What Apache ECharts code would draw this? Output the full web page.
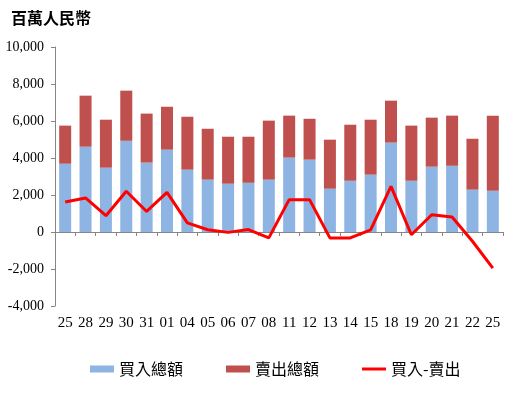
<!DOCTYPE html>
<html><head><meta charset="utf-8">
<script src="https://cdn.jsdelivr.net/npm/echarts@6/dist/echarts.min.js"></script>
<style>html,body{margin:0;padding:0;background:#fff}#c{width:516px;height:396px}</style>
</head><body><div id="c"></div>
<script>
const categories = ['25','28','29','30','31','01','04','05','06','07','08','11','12','13','14','15','18','19','20','21','22','25'];
const buyTotal = [3690,4610,3480,4930,3750,4450,3370,2830,2610,2660,2830,4020,3910,2340,2770,3100,4830,2770,3530,3580,2290,2230];
const grandTotal = [5750,7370,6070,7640,6400,6770,6230,5580,5150,5150,6020,6290,6120,4990,5800,6070,7100,5750,6180,6290,5040,6290];
const sellTotal = grandTotal.map((t,i)=>t-buyTotal[i]);
const netBuy = [1620,1840,880,2200,1110,2140,490,120,-20,130,-320,1750,1750,-320,-320,120,2470,-150,930,810,-500,-1950];
const yTicks = {min:-4000, max:10000, interval:2000};
const title = '百萬人民幣';
const names = ['買入總額','賣出總額','買入-賣出'];

const chart = echarts.init(document.getElementById('c'), null, {renderer:'canvas'});
const serif = "'Liberation Serif', 'Times New Roman', serif";
const cjk = "'Noto Sans CJK TC', 'Noto Sans', sans-serif";
chart.setOption({
  animation:false,
  title:{text:title, left:6, top:5, textStyle:{fontFamily:cjk, fontSize:16, fontWeight:'bold', color:'#000'}},
  grid:{left:55, right:13, top:47, bottom:90},
  legend:{
    left:85, top:356, itemGap:43, itemWidth:24, itemHeight:7,
    textStyle:{fontFamily:cjk, fontSize:16, color:'#000'},
    data:[
      {name:names[0], icon:'rect'},
      {name:names[1], icon:'rect'},
      {name:names[2], icon:'path://M0,0 L0,0 M0,2 L24,2 L24,5 L0,5 Z M24,7 L24,7', itemStyle:{color:'#FF0000'}}
    ]
  },
  xAxis:[
    {type:'category', data:categories, position:'bottom',
     axisLine:{onZero:true, lineStyle:{color:'#868686', width:1}},
     axisTick:{show:true, length:4, lineStyle:{color:'#868686'}},
     axisLabel:{show:false}, splitLine:{show:false}},
    {type:'category', data:categories, position:'bottom',
     axisLine:{show:false, onZero:false}, axisTick:{show:false},
     axisLabel:{show:true, interval:0, margin:10, fontFamily:serif, fontSize:15, color:'#000'},
     splitLine:{show:false}}
  ],
  yAxis:{type:'value', min:yTicks.min, max:yTicks.max, interval:yTicks.interval,
    axisLine:{show:true, lineStyle:{color:'#868686'}},
    axisTick:{show:true, length:4, lineStyle:{color:'#868686'}},
    splitLine:{show:false},
    axisLabel:{margin:11, fontFamily:serif, fontSize:14, color:'#000',
      formatter:v=>v.toLocaleString('en-US')}},
  series:[
    {name:names[0], type:'bar', stack:'t', xAxisIndex:0, data:buyTotal, barWidth:12, itemStyle:{color:'#8EB4E3'}},
    {name:names[1], type:'bar', stack:'t', xAxisIndex:0, data:sellTotal, barWidth:12, itemStyle:{color:'#C0504D'}},
    {name:names[2], type:'line', xAxisIndex:0, data:netBuy, symbol:'none', lineStyle:{color:'#FF0000', width:3}, itemStyle:{color:'#FF0000'}, z:5}
  ]
});
</script></body></html>
